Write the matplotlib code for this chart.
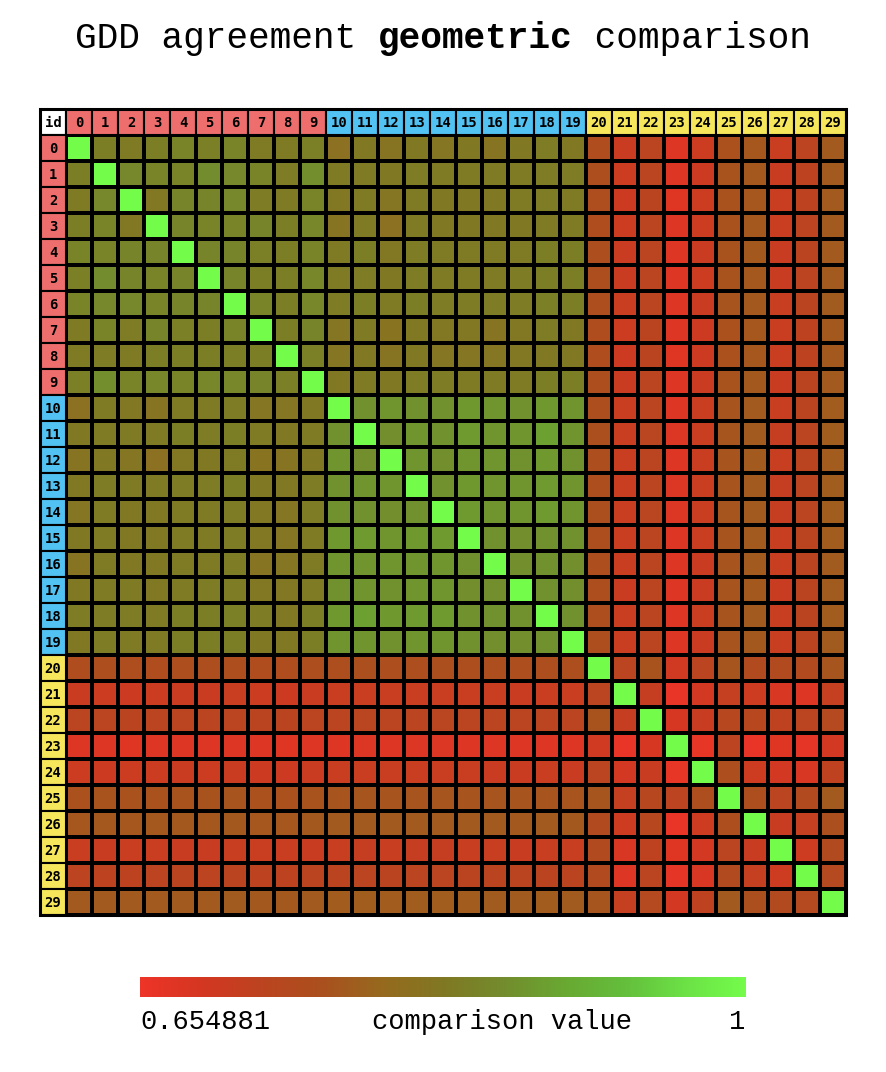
import numpy as np
from matplotlib import pyplot as plt
from matplotlib.colors import LinearSegmentedColormap
from matplotlib.patches import Rectangle

# wartosci (gorny trojkat, macierz symetryczna)
ids = [str(i) for i in range(30)]
groups = [0] * 10 + [1] * 10 + [2] * 10
vmin, vmax = 0.654881, 1.0

upper = [
    [0.838, 0.831, 0.838, 0.845, 0.841, 0.845, 0.831, 0.831, 0.841,
     0.810, 0.827, 0.817, 0.827, 0.821, 0.827, 0.817, 0.827, 0.834, 0.827,
     0.750, 0.704, 0.728, 0.678, 0.703, 0.760, 0.768, 0.706, 0.724, 0.771],
    [0.855, 0.845, 0.845, 0.862, 0.855, 0.845, 0.834, 0.865,
     0.831, 0.831, 0.827, 0.834, 0.831, 0.831, 0.831, 0.831, 0.834, 0.834,
     0.752, 0.703, 0.727, 0.677, 0.702, 0.762, 0.769, 0.707, 0.723, 0.772],
    [0.824, 0.848, 0.848, 0.855, 0.834, 0.831, 0.845,
     0.824, 0.831, 0.821, 0.831, 0.827, 0.827, 0.827, 0.831, 0.834, 0.831,
     0.751, 0.702, 0.726, 0.676, 0.703, 0.761, 0.768, 0.706, 0.723, 0.771],
    [0.848, 0.845, 0.845, 0.848, 0.838, 0.852,
     0.817, 0.831, 0.810, 0.831, 0.827, 0.827, 0.827, 0.827, 0.831, 0.831,
     0.750, 0.703, 0.727, 0.677, 0.703, 0.761, 0.769, 0.706, 0.724, 0.771],
    [0.848, 0.848, 0.841, 0.838, 0.845,
     0.831, 0.838, 0.824, 0.834, 0.831, 0.831, 0.831, 0.831, 0.838, 0.838,
     0.752, 0.704, 0.728, 0.678, 0.704, 0.762, 0.770, 0.707, 0.725, 0.772],
    [0.848, 0.838, 0.838, 0.852,
     0.831, 0.834, 0.827, 0.834, 0.831, 0.831, 0.831, 0.834, 0.838, 0.838,
     0.752, 0.704, 0.727, 0.678, 0.703, 0.762, 0.769, 0.707, 0.724, 0.772],
    [0.845, 0.838, 0.852,
     0.834, 0.838, 0.831, 0.838, 0.834, 0.834, 0.834, 0.834, 0.841, 0.838,
     0.753, 0.705, 0.728, 0.679, 0.704, 0.763, 0.770, 0.708, 0.725, 0.773],
    [0.838, 0.848,
     0.821, 0.831, 0.814, 0.827, 0.824, 0.824, 0.817, 0.824, 0.834, 0.827,
     0.750, 0.703, 0.726, 0.677, 0.702, 0.760, 0.768, 0.706, 0.723, 0.770],
    [0.841,
     0.821, 0.827, 0.817, 0.827, 0.821, 0.821, 0.821, 0.824, 0.827, 0.827,
     0.750, 0.702, 0.726, 0.676, 0.702, 0.760, 0.768, 0.705, 0.723, 0.770],
    [0.827, 0.831, 0.827, 0.834, 0.834, 0.831, 0.831, 0.831, 0.838, 0.838,
     0.752, 0.704, 0.728, 0.678, 0.704, 0.762, 0.770, 0.707, 0.725, 0.772],
    [0.869, 0.872, 0.869, 0.869, 0.876, 0.872, 0.869, 0.876, 0.872,
     0.754, 0.705, 0.729, 0.679, 0.705, 0.764, 0.771, 0.708, 0.726, 0.774],
    [0.865, 0.872, 0.869, 0.879, 0.872, 0.872, 0.886, 0.872,
     0.755, 0.706, 0.730, 0.680, 0.706, 0.765, 0.772, 0.709, 0.727, 0.775],
    [0.872, 0.865, 0.872, 0.872, 0.869, 0.876, 0.869,
     0.754, 0.705, 0.729, 0.679, 0.705, 0.764, 0.771, 0.708, 0.726, 0.774],
    [0.869, 0.876, 0.872, 0.872, 0.879, 0.872,
     0.754, 0.706, 0.729, 0.680, 0.705, 0.764, 0.772, 0.709, 0.727, 0.775],
    [0.879, 0.872, 0.872, 0.879, 0.872,
     0.755, 0.706, 0.730, 0.680, 0.706, 0.765, 0.772, 0.709, 0.727, 0.775],
    [0.869, 0.865, 0.869, 0.869,
     0.754, 0.705, 0.729, 0.679, 0.705, 0.764, 0.771, 0.708, 0.726, 0.774],
    [0.865, 0.869, 0.865,
     0.753, 0.705, 0.728, 0.679, 0.704, 0.763, 0.771, 0.708, 0.726, 0.773],
    [0.869, 0.865,
     0.753, 0.704, 0.728, 0.678, 0.704, 0.763, 0.770, 0.707, 0.725, 0.773],
    [0.869,
     0.754, 0.705, 0.729, 0.679, 0.705, 0.764, 0.771, 0.708, 0.726, 0.774],
    [0.753, 0.705, 0.728, 0.679, 0.704, 0.763, 0.770, 0.708, 0.725, 0.773],
    [0.727, 0.762, 0.696, 0.727, 0.765, 0.745, 0.745, 0.745, 0.765],
    [0.710, 0.662, 0.693, 0.714, 0.700, 0.686, 0.679, 0.714],
    [0.689, 0.707, 0.734, 0.734, 0.720, 0.727, 0.738],
    [0.665, 0.724, 0.662, 0.676, 0.669, 0.693],
    [0.752, 0.700, 0.693, 0.686, 0.720],
    [0.752, 0.727, 0.745, 0.772],
    [0.707, 0.714, 0.755],
    [0.700, 0.745],
    [0.738],
]

n = len(ids)
M = np.eye(n)
for i, row in enumerate(upper):
    M[i, i + 1:] = row
    M[i + 1:, i] = row

cmap = LinearSegmentedColormap.from_list('agree', [
    (0.0, '#EE3428'), (0.1, '#D43722'), (0.2, '#BC4420'), (0.3, '#AA501E'),
    (0.4, '#966A1E'), (0.5, '#807823'), (0.6, '#738C2D'), (0.7, '#69A832'),
    (0.8, '#64BE3C'), (0.9, '#6CE146'), (1.0, '#74FC4B')])
head_colors = ['#EE6E6E', '#52C2F2', '#F6E65C']

W, H = 886, 1072
fig = plt.figure(figsize=(W / 100, H / 100), dpi=100)

# tytul, czcionka o stalej szerokosci - skladany z trzech kawalkow
fs = 26
cw = fs * 0.6 / 72 * 100 / W
parts = [('GDD agreement ', 'normal'), ('geometric', 'bold'),
         (' comparison', 'normal')]
x0 = 0.5 - cw * sum(len(p) for p, _ in parts) / 2
for p, wgt in parts:
    fig.text(x0, 1 - 38 / H, p, fontsize=fs, family='Liberation Mono',
             weight=wgt, ha='left', va='center')
    x0 += cw * len(p)

# tabela
ax = fig.add_axes([40 / W, (H - 915) / H, 806 / W, 806 / H])
ax.set_xlim(0, n + 1)
ax.set_ylim(n + 1, 0)
ax.axis('off')
lw = 1.5
ax.pcolormesh(np.arange(1, n + 2), np.arange(1, n + 2), M, cmap=cmap,
              vmin=vmin, vmax=vmax, edgecolors='black', linewidth=lw)
ax.add_patch(Rectangle((0, 0), 1, 1, facecolor='white', edgecolor='black',
                       linewidth=lw))
ax.text(0.5, 0.55, 'id', ha='center', va='center', fontsize=10,
        family='DejaVu Sans Mono', weight='bold')
for k in range(n):
    c = head_colors[groups[k]]
    ax.add_patch(Rectangle((k + 1, 0), 1, 1, facecolor=c, edgecolor='black',
                           linewidth=lw))
    ax.add_patch(Rectangle((0, k + 1), 1, 1, facecolor=c, edgecolor='black',
                           linewidth=lw))
    ax.text(k + 1.5, 0.55, ids[k], ha='center', va='center', fontsize=10,
            family='DejaVu Sans Mono', weight='bold')
    ax.text(0.5, k + 1.55, ids[k], ha='center', va='center', fontsize=10,
            family='DejaVu Sans Mono', weight='bold')
ax.add_patch(Rectangle((0, 0), n + 1, n + 1, fill=False, edgecolor='black',
                       linewidth=2.2, clip_on=False))

# pasek kolorow
cax = fig.add_axes([140 / W, (H - 997) / H, 606 / W, 20 / H])
cax.imshow(np.linspace(0, 1, 512)[None, :], aspect='auto', cmap=cmap)
cax.axis('off')
ly = 1 - 1022 / H
fig.text(140 / W, ly, '%g' % vmin, fontsize=19.5, family='Liberation Mono',
         ha='left', va='center')
fig.text(502 / W, ly, 'comparison value', fontsize=19.5,
         family='Liberation Mono', ha='center', va='center')
fig.text(745 / W, ly, '1', fontsize=19.5, family='Liberation Mono',
         ha='right', va='center')

fig.savefig('out.png', dpi=100)
